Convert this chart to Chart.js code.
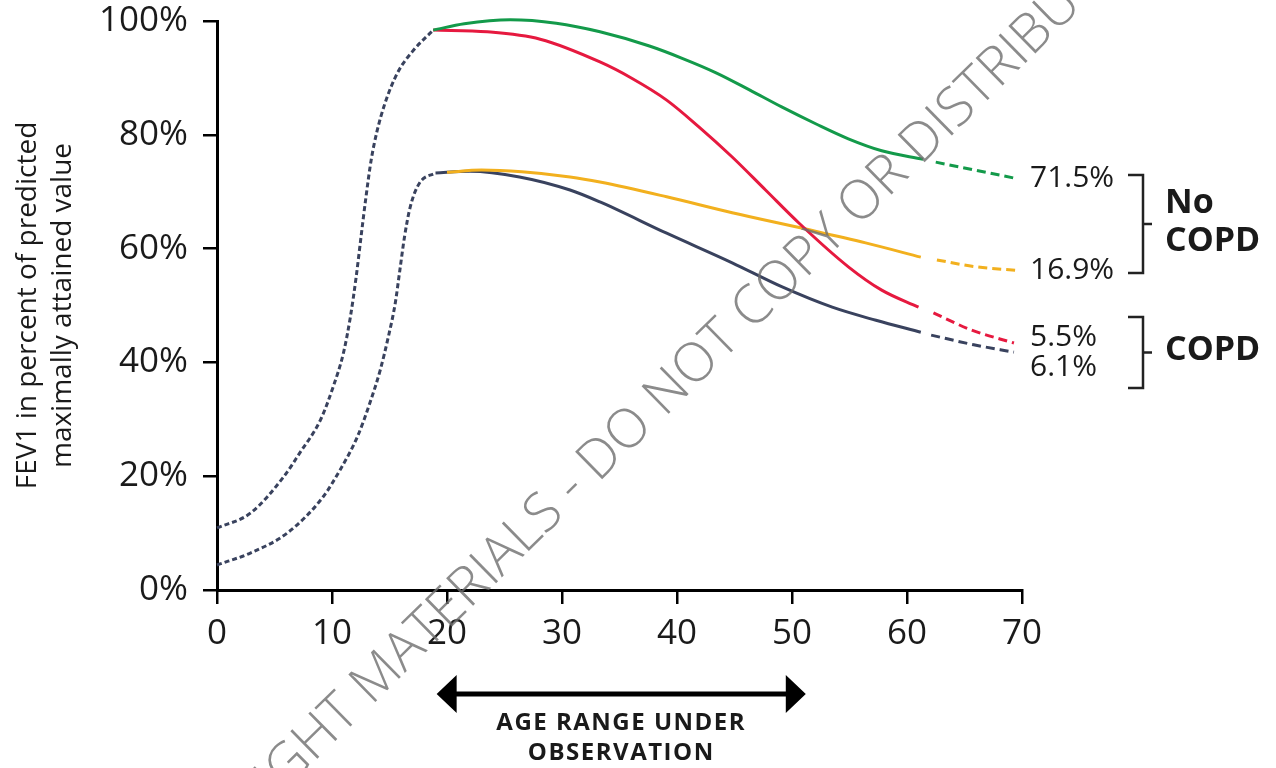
<!DOCTYPE html>
<html>
<head>
<meta charset="utf-8">
<script src="https://cdn.jsdelivr.net/npm/chart.js@4.4.1/dist/chart.umd.min.js"></script>
<style>
  html, body { margin: 0; padding: 0; background: #fff; }
  #wrap { width: 1276px; height: 768px; }
</style>
</head>
<body>
<div id="wrap"><canvas id="fevChart" width="1276" height="768"></canvas></div>
<script>
// Tick values
const xTicks = [0, 10, 20, 30, 40, 50, 60, 70];
const yTicks = [0, 20, 40, 60, 80, 100];

// Growth phase (dashed), upper and lower trajectory
const riseHighAge = [0, 2.9, 5.8, 7.2, 9.0, 10.1, 11.0, 11.6, 12.1, 12.55, 12.95, 13.4, 13.9, 14.6, 15.7, 17.1, 18.8];
const riseHighFev = [10.9, 13.5, 19.9, 24.1, 29.9, 35.7, 41.7, 48.0, 55.0, 62.5, 69.0, 75.5, 80.5, 85.5, 90.9, 94.9, 98.4];
const riseLowAge = [0, 2.9, 6.1, 9.2, 10.7, 12.2, 13.3, 14.2, 14.9, 15.5, 15.9, 16.3, 16.8, 17.6, 19.0];
const riseLowFev = [4.4, 6.5, 10.0, 16.3, 21.1, 26.9, 32.9, 38.7, 44.5, 50.4, 56.2, 62.0, 67.3, 71.5, 73.3];

// Observed decline (solid)
const greenAge = [18.8, 21.5, 25.5, 29.5, 33.3, 37.6, 40.5, 43.4, 46.3, 49.1, 52.1, 54.9, 57.8, 61.4];
const greenFev = [98.4, 99.5, 100.2, 99.6, 98.1, 95.6, 93.4, 90.9, 87.9, 84.9, 81.9, 79.3, 77.2, 75.7];
const redAge = [18.8, 23.5, 28.1, 33.3, 36.1, 39.1, 41.9, 44.8, 47.7, 50.6, 54.9, 57.8, 61.0];
const redFev = [98.4, 98.1, 96.8, 92.8, 89.9, 86.1, 81.4, 76.1, 70.3, 64.5, 56.8, 52.7, 49.7];
const yellowAge = [20.0, 23.0, 26.5, 30.7, 33.3, 39.1, 44.8, 51.5, 56.4, 61.2];
const yellowFev = [73.4, 73.8, 73.5, 72.6, 71.7, 69.1, 66.3, 63.3, 61.0, 58.5];
const navyAge = [19.0, 22.0, 26.3, 30.7, 33.3, 39.1, 44.8, 49.1, 53.5, 57.3, 61.2];
const navyFev = [73.3, 73.6, 72.6, 70.3, 68.2, 62.7, 57.5, 53.3, 49.7, 47.4, 45.3];

// Projected (dashed) tails
const greenTailAge = [62.5, 65.9, 69.3];
const greenTailFev = [75.2, 73.8, 72.4];
const redTailAge = [62.3, 65.6, 69.3];
const redTailFev = [48.7, 45.7, 43.4];
const yellowTailAge = [62.6, 66.0, 69.4];
const yellowTailFev = [58.0, 56.8, 56.2];
const navyTailAge = [62.1, 65.8, 69.3];
const navyTailFev = [44.8, 43.1, 41.8];

// Right-hand labels (share of each group)
const endLabels = ['71.5%', '16.9%', '5.5%', '6.1%'];
const groupLabels = [['No', 'COPD'], ['COPD']];
const obsRange = [19.1, 51.2];

const GREEN = '#139a4a';
const RED = '#e6193f';
const YELLOW = '#f2b01e';
const NAVY = '#39425e';
const INK = '#1a1a1a';

function pts(xs, ys) {
    return xs.map((x, i) => ({ x: x, y: ys[i] }));
}

function line(xs, ys, color, dashed) {
    return {
        data: pts(xs, ys),
        borderColor: color,
        borderWidth: 3,
        borderDash: dashed ? dashed : [],
        pointRadius: 0,
        cubicInterpolationMode: 'monotone',
        fill: false,
        clip: false
    };
}

// Labels, brackets, arrow and watermark
const annotations = {
    id: 'annotations',
    afterDatasetsDraw(chart) {
        const ctx = chart.ctx;
        const xs = chart.scales.x;
        const ys = chart.scales.y;
        ctx.save();

        // end-of-line percentages
        const ends = [greenTailFev, yellowTailFev, redTailFev, navyTailFev];
        const nudge = [0, 0, -6, 15];
        ctx.font = '30px "Open Sans"';
        ctx.fillStyle = INK;
        ctx.textAlign = 'left';
        ctx.textBaseline = 'middle';
        endLabels.forEach((t, i) => {
            const v = ends[i][ends[i].length - 1];
            ctx.fillText(t, xs.right + 8, ys.getPixelForValue(v) + nudge[i]);
        });

        // brackets
        ctx.strokeStyle = '#222';
        ctx.lineWidth = 2.5;
        const bx = xs.right + 121;
        function bracket(top, bottom) {
            const mid = (top + bottom) / 2;
            ctx.beginPath();
            ctx.moveTo(bx - 15, top);
            ctx.lineTo(bx, top);
            ctx.lineTo(bx, bottom);
            ctx.lineTo(bx - 15, bottom);
            ctx.moveTo(bx, mid);
            ctx.lineTo(bx + 9, mid);
            ctx.stroke();
        }
        bracket(175, 273);
        bracket(317, 388);

        ctx.font = 'bold 34px "Open Sans"';
        ctx.fillStyle = INK;
        ctx.fillText(groupLabels[0][0], bx + 22, 203);
        ctx.fillText(groupLabels[0][1], bx + 22, 241);
        ctx.fillText(groupLabels[1][0], bx + 22, 350);

        // age range arrow
        const ax0 = xs.getPixelForValue(obsRange[0]);
        const ax1 = xs.getPixelForValue(obsRange[1]);
        const ay = 694;
        ctx.fillStyle = '#000';
        ctx.fillRect(ax0 + 15, ay - 2.5, ax1 - ax0 - 30, 5);
        ctx.beginPath();
        ctx.moveTo(ax0, ay);
        ctx.lineTo(ax0 + 20, ay - 19);
        ctx.lineTo(ax0 + 20, ay + 19);
        ctx.closePath();
        ctx.moveTo(ax1, ay);
        ctx.lineTo(ax1 - 20, ay - 19);
        ctx.lineTo(ax1 - 20, ay + 19);
        ctx.closePath();
        ctx.fill();

        ctx.font = 'bold 24px "Open Sans"';
        ctx.letterSpacing = '1.5px';
        ctx.textAlign = 'center';
        ctx.textBaseline = 'alphabetic';
        ctx.fillStyle = INK;
        const cx = (ax0 + ax1) / 2;
        ctx.fillText('AGE RANGE UNDER', cx, 730);
        ctx.fillText('OBSERVATION', cx, 760);
        ctx.letterSpacing = '0px';

        // watermark
        ctx.translate(630, 430);
        ctx.rotate(-44.5 * Math.PI / 180);
        ctx.font = '300 54px "Open Sans"';
        ctx.fillStyle = 'rgba(110,110,110,0.8)';
        ctx.textAlign = 'center';
        ctx.textBaseline = 'middle';
        ctx.fillText('COPYRIGHT MATERIALS - DO NOT COPY OR DISTRIBUTE', 0, 0);

        ctx.restore();
    }
};

const ctx = document.getElementById('fevChart').getContext('2d');

new Chart(ctx, {
    type: 'line',
    data: {
        datasets: [
            line(riseHighAge, riseHighFev, NAVY, [5, 3]),
            line(riseLowAge, riseLowFev, NAVY, [5, 3]),
            line(greenAge, greenFev, GREEN),
            line(redAge, redFev, RED),
            line(yellowAge, yellowFev, YELLOW),
            line(navyAge, navyFev, NAVY),
            line(greenTailAge, greenTailFev, GREEN, [9, 5]),
            line(redTailAge, redTailFev, RED, [9, 5]),
            line(yellowTailAge, yellowTailFev, YELLOW, [9, 5]),
            line(navyTailAge, navyTailFev, NAVY, [9, 5])
        ]
    },
    options: {
        responsive: false,
        animation: false,
        layout: { padding: { top: 21, right: 254, bottom: 0, left: 0 } },
        plugins: {
            legend: { display: false },
            tooltip: { enabled: false }
        },
        scales: {
            x: {
                type: 'linear',
                min: 0,
                max: 70,
                afterBuildTicks: (scale) => { scale.ticks = xTicks.map(v => ({ value: v })); },
                afterFit: (scale) => {
                    scale.height = 178;
                    scale.paddingLeft = 0;
                    scale.paddingRight = 0;
                },
                border: { color: '#000', width: 3 },
                grid: { drawOnChartArea: false, color: '#000', lineWidth: 2.5, tickLength: 14 },
                ticks: {
                    color: INK,
                    padding: 9,
                    maxRotation: 0,
                    font: { family: '"Open Sans"', size: 35 }
                }
            },
            y: {
                type: 'linear',
                min: 0,
                max: 100,
                afterBuildTicks: (scale) => { scale.ticks = yTicks.map(v => ({ value: v })); },
                afterFit: (scale) => {
                    scale.width = 217;
                    scale.paddingTop = 0;
                    scale.paddingBottom = 0;
                },
                border: { color: '#000', width: 3 },
                grid: { drawOnChartArea: false, color: '#000', lineWidth: 2.5, tickLength: 14 },
                ticks: {
                    color: INK,
                    padding: 15,
                    font: { family: '"Open Sans"', size: 35 },
                    callback: (v) => v + '%'
                },
                title: {
                    display: true,
                    text: ['FEV1 in percent of predicted', 'maximally attained value'],
                    color: INK,
                    padding: { top: 10, bottom: 0 },
                    font: { family: '"Open Sans"', size: 28, lineHeight: 1.27 }
                }
            }
        }
    },
    plugins: [annotations]
});
</script>
</body>
</html>
